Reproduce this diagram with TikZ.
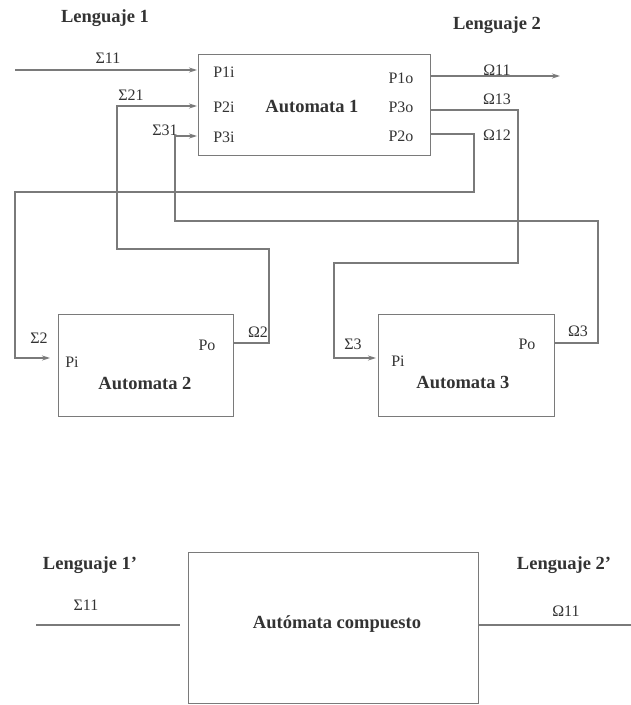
\documentclass[tikz,border=0pt]{standalone}
\usepackage{fontspec}
\setmainfont{Liberation Serif}
\usetikzlibrary{arrows.meta}
\definecolor{linegray}{HTML}{7A7A7A}
\definecolor{txtgray}{HTML}{333333}
\begin{document}
\begin{tikzpicture}[x=1pt,y=-1pt,
  wire/.style={draw=linegray, line width=1.2pt},
  arr/.style={wire,-{Stealth[length=8pt,width=5pt]}},
  blockbox/.style={draw=linegray, line width=1.2pt, inner sep=0pt, anchor=north west},
  lab/.style={text=txtgray, font=\fontsize{16}{18}\selectfont, inner sep=0pt},
  ttl/.style={text=txtgray, font=\bfseries\fontsize{18.5}{20}\selectfont, inner sep=0pt}]
\useasboundingbox (0,0) rectangle (631,705);

% boxes
\node[blockbox, minimum width=232pt, minimum height=101pt] (a1) at (198,54) {};
\node[blockbox, minimum width=175pt, minimum height=102pt] (a2) at (58,314) {};
\node[blockbox, minimum width=176pt, minimum height=102pt] (a3) at (378,314) {};
\node[blockbox, minimum width=290pt, minimum height=151pt] (ac) at (188,552) {};

% titles
\node[ttl] (t1) at (312,107) {Automata 1};
\node[ttl] (t2) at (145,383) {Automata 2};
\node[ttl] (t3) at (463,382) {Automata 3};
\node[ttl] (tc) at (337,624) {Autómata compuesto};
\node[ttl] (l1) at (105,18) {Lenguaje 1};
\node[ttl] (l2) at (497,25) {Lenguaje 2};
\node[ttl] (l1p) at (90,565) {Lenguaje 1’};
\node[ttl] (l2p) at (564,565) {Lenguaje 2’};

% port labels
\node[lab] (p1i) at (224,72) {P1i};
\node[lab] (p2i) at (224,107) {P2i};
\node[lab] (p3i) at (224,137) {P3i};
\node[lab] (p1o) at (401,78) {P1o};
\node[lab] (p3o) at (401,107) {P3o};
\node[lab] (p2o) at (401,136) {P2o};
\node[lab] (pi2) at (72,362) {Pi};
\node[lab] (po2) at (207,345) {Po};
\node[lab] (pi3) at (398,361) {Pi};
\node[lab] (po3) at (527,344) {Po};

% signal labels
\node[lab] (s11) at (108,58) {Σ11};
\node[lab] (s21) at (131,95) {Σ21};
\node[lab] (s31) at (165,130) {Σ31};
\node[lab] (o11) at (497,70) {Ω11};
\node[lab] (o13) at (497,99) {Ω13};
\node[lab] (o12) at (497,135) {Ω12};
\node[lab] (s2) at (39,338) {Σ2};
\node[lab] (o2) at (258,332) {Ω2};
\node[lab] (s3) at (353,344) {Σ3};
\node[lab] (o3) at (578,331) {Ω3};
\node[lab] (bs11) at (86,605) {Σ11};
\node[lab] (bo11) at (566,611) {Ω11};

% connector end points
\coordinate (in11) at (15,70);
\coordinate (a1i1) at (197,70);
\coordinate (a1i2) at (197,106);
\coordinate (a1i3) at (197,136);
\coordinate (a1o1) at (430,76);
\coordinate (a1o3) at (430,110);
\coordinate (a1o2) at (430,134);
\coordinate (out11) at (560,76);
\coordinate (a2i) at (50,358);
\coordinate (a2o) at (233,343);
\coordinate (a3i) at (376,358);
\coordinate (a3o) at (554,343);
\coordinate (bin) at (36,625);
\coordinate (binr) at (180,625);
\coordinate (boutl) at (478,625);
\coordinate (bout) at (631,625);

% connectors
\draw[arr] (in11) -- (a1i1);
\draw[arr] (a1o1) -- (out11);
\draw[arr] (a2o) -- ++(36,0) |- (117,249) |- (a1i2);
\draw[arr] (a3o) -- ++(44,0) |- (175,221) |- (a1i3);
\draw[arr] (a1o2) -| (474,192) -| (15,358) -- (a2i);
\draw[arr] (a1o3) -| (518,263) -| (334,358) -- (a3i);
\draw[wire] (bin) -- (binr);
\draw[wire] (boutl) -- (bout);
\end{tikzpicture}
\end{document}
